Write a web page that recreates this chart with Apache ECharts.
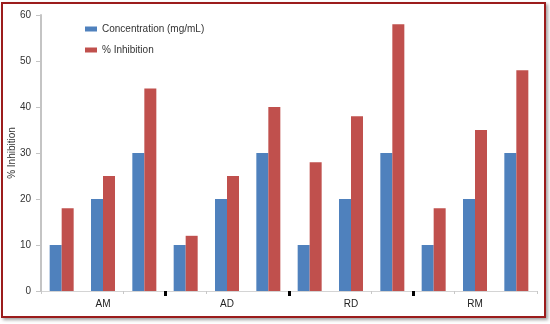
<!DOCTYPE html>
<html>
<head>
<meta charset="utf-8">
<script src="https://cdn.jsdelivr.net/npm/echarts@6/dist/echarts.min.js"></script>
<style>
  html, body { margin: 0; padding: 0; background: #fff; }
  #frame {
    position: absolute; left: 1px; top: 2px; width: 541px; height: 312px;
    border: 2px solid #9b1c1c;
    box-shadow: 2px 2px 3px rgba(90,90,90,0.55);
  }
  #chart { position: absolute; left: 0; top: 0; width: 550px; height: 324px; }
</style>
</head>
<body>
<div id="frame"></div>
<div id="chart"></div>
<script>
// Extract groups and the concentrations tested in each one
const groups = ['AM', 'AD', 'RD', 'RM'];
const doses = [10, 20, 30];

// Concentration (mg/mL) bars, in group order
const concentration = [10, 20, 30, 10, 20, 30, 10, 20, 30, 10, 20, 30];
// % Inhibition measured at each concentration
const inhibition = [18, 25, 44, 12, 25, 40, 28, 38, 58, 18, 35, 48];

// Y axis ticks
const yTicks = { min: 0, max: 60, step: 10 };

const FONT = 'Liberation Sans, Arial, sans-serif';

const categories = [];
groups.forEach(g => doses.forEach(d => categories.push(g + ' ' + d)));

const perGroup = doses.length;
const total = groups.length * perGroup;
const groupSeparators = groups.slice(1).map((g, i) => (i + 1) * perGroup);
const groupCenters = groups.map((g, i) => i * perGroup + perGroup / 2);

const chart = echarts.init(document.getElementById('chart'), null, { renderer: 'canvas' });

chart.setOption({
  animation: false,
  textStyle: { fontFamily: FONT },
  grid: { left: 41, right: 13, top: 15, bottom: 33, containLabel: false, outerBoundsMode: 'none' },
  legend: {
    orient: 'vertical',
    left: 80,
    top: 19,
    itemWidth: 12,
    itemHeight: 5,
    itemGap: 11,
    icon: 'rect',
    textStyle: { fontFamily: FONT, fontSize: 10, color: '#333' },
    data: ['Concentration (mg/mL)', '% Inhibition']
  },
  xAxis: [
    {
      type: 'category',
      data: categories,
      boundaryGap: true,
      axisLine: { show: true, lineStyle: { color: '#d4d4d4', width: 1 } },
      axisTick: { show: true, length: 3, lineStyle: { color: '#c8c8c8' } },
      axisLabel: { show: false },
      splitLine: { show: false }
    },
    {
      type: 'value',
      position: 'bottom',
      min: 0,
      max: total,
      axisLine: { show: false },
      axisTick: {
        show: true,
        customValues: groupSeparators,
        length: 5,
        lineStyle: { color: '#000', width: 3 }
      },
      axisLabel: {
        show: true,
        customValues: groupCenters,
        margin: 8,
        fontFamily: FONT,
        fontSize: 10,
        color: '#222',
        formatter: v => groups[Math.floor(v / perGroup)]
      },
      splitLine: { show: false }
    }
  ],
  yAxis: {
    type: 'value',
    min: yTicks.min,
    max: yTicks.max,
    interval: yTicks.step,
    name: '% Inhibition',
    nameLocation: 'middle',
    nameGap: 24,
    nameRotate: 90,
    nameMoveOverlap: false,
    nameTextStyle: { fontFamily: FONT, fontSize: 10, color: '#333' },
    axisLine: { show: true, lineStyle: { color: '#c4c4c4', width: 2 } },
    axisTick: { show: true, length: 5, lineStyle: { color: '#c4c4c4' } },
    axisLabel: { fontFamily: FONT, fontSize: 10, color: '#333', margin: 10 },
    splitLine: { show: false }
  },
  series: [
    {
      name: 'Concentration (mg/mL)',
      type: 'bar',
      xAxisIndex: 0,
      barWidth: 12,
      barGap: '0%',
      itemStyle: { color: '#4f81bd' },
      data: concentration
    },
    {
      name: '% Inhibition',
      type: 'bar',
      xAxisIndex: 0,
      barWidth: 12,
      barGap: '0%',
      itemStyle: { color: '#c0504d' },
      data: inhibition
    }
  ]
});
</script>
</body>
</html>
